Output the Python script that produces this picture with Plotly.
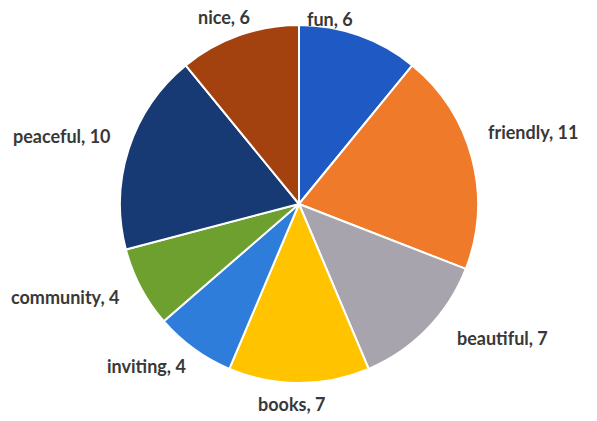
import math
import plotly.graph_objects as go

labels = ["fun", "friendly", "beautiful", "books", "inviting", "community", "peaceful", "nice"]
values = [6, 11, 7, 7, 4, 4, 10, 6]
colors = ["#1F5AC4", "#EF7A2A", "#A8A4AD", "#FFC300", "#2F7DDA", "#6EA02F", "#173A74", "#A3420F"]

W, H = 597, 421
cx, cy, r = 299, 204, 179

fig = go.Figure(go.Pie(
    labels=labels, values=values, sort=False, direction="clockwise", rotation=0,
    marker=dict(colors=colors, line=dict(color="white", width=2)),
    textinfo="none", hoverinfo="label+value", showlegend=False,
    domain=dict(x=[(cx - r) / W, (cx + r) / W], y=[1 - (cy + r) / H, 1 - (cy - r) / H]),
))

# label placement: radial from each slice's mid angle, with small nudges (pixels)
nudge = {"fun": (-44, 6), "friendly": (-10, -20), "beautiful": (22, -7), "books": (-8, -3),
         "inviting": (-7, -2), "community": (-10, -2), "peaceful": (3, -5), "nice": (2, 4)}
total = sum(values)
cum = 0
gap = 15
for lab, v in zip(labels, values):
    mid = (cum + v / 2) / total * 2 * math.pi
    cum += v
    dx, dy = math.sin(mid), -math.cos(mid)
    text = f"{lab}, {v}"
    hw = len(text) * 4.9
    hh = 9
    px = cx + (r + gap) * dx + hw * dx + nudge[lab][0]
    py = cy + (r + gap) * dy + hh * dy + nudge[lab][1]
    fig.add_annotation(x=px / W, y=1 - py / H, xref="paper", yref="paper", text=text,
                       showarrow=False, xanchor="center", yanchor="middle",
                       font=dict(family="Lato", size=18, color="#383838", weight="bold"))

fig.update_layout(width=W, height=H, margin=dict(l=0, r=0, t=0, b=0),
                  paper_bgcolor="white", plot_bgcolor="white")
fig.write_html("out.html")
